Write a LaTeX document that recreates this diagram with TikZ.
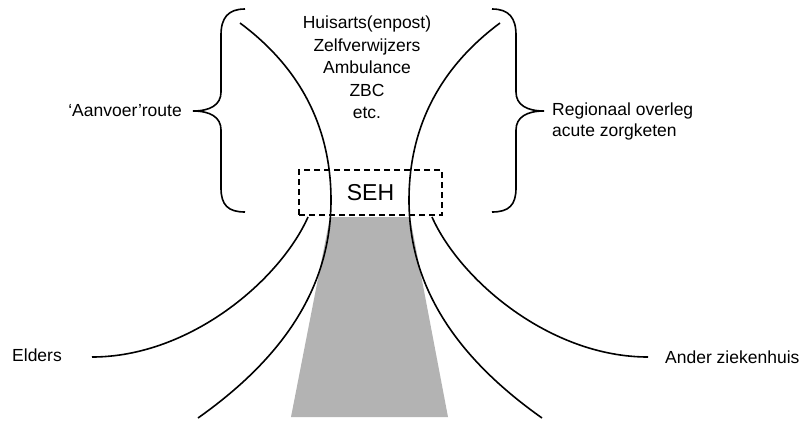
\documentclass[tikz,border=0pt]{standalone}
\usepackage{fontspec}
\setmainfont{Liberation Sans}
\definecolor{funnelgray}{HTML}{B3B3B3}
\tikzset{
  txt/.style={inner sep=0pt, font=\fontsize{17.5}{22.6}\selectfont},
  curve/.style={line width=1.6pt},
  brace/.style={line width=1.6pt},
  sehbox/.style={draw, dashed, dash pattern=on 6pt off 4pt, line width=1.3pt, minimum width=143pt, minimum height=45pt, inner sep=0pt, font=\fontsize{23}{26}\selectfont}
}
\begin{document}
\begin{tikzpicture}[x=1pt,y=-1pt]
\useasboundingbox (0,0) rectangle (809,421);
% gray funnel
\fill[funnelgray] (330,217) -- (410,217) -- (448,417) -- (291,417) -- cycle;
% left brace
\draw[brace] (245,9) .. controls (228,9) and (221,18) .. (221,35) -- (221,92)
  .. controls (221,105) and (210,111) .. (193,111)
  .. controls (210,111) and (221,117) .. (221,130) -- (221,188)
  .. controls (221,205) and (228,212) .. (245,212);
% right brace
\draw[brace] (492,9) .. controls (509,9) and (516,18) .. (516,35) -- (516,92)
  .. controls (516,105) and (527,111) .. (544,111)
  .. controls (527,111) and (516,117) .. (516,130) -- (516,188)
  .. controls (516,205) and (509,212) .. (492,212);
% inner curves
\draw[curve] (240,23) .. controls (310,75) and (331,140) .. (331,200)
  .. controls (331,290) and (280,360) .. (198,418);
\draw[curve] (500,23) .. controls (430,75) and (409,140) .. (409,200)
  .. controls (409,290) and (460,360) .. (542,418);
% outer curves
\draw[curve] (308,217) .. controls (280,280) and (190,357) .. (92,357);
\draw[curve] (432,217) .. controls (460,280) and (550,357) .. (648,357);
% SEH box
\node[sehbox] (seh) at (370.5,192.5) {SEH};
% texts
\node[txt, align=center] (sources) at (367,67.5) {Huisarts(enpost)\\Zelfverwijzers\\Ambulance\\ZBC\\etc.};
\node[txt, anchor=east] (aanvoer) at (182,111) {‘Aanvoer’route};
\node[txt, anchor=north west, align=left, font=\fontsize{17.5}{21}\selectfont] (regio) at (552,103) {Regionaal overleg\\acute zorgketen};
\node[txt, anchor=west] (elders) at (12,355) {Elders};
\node[txt, anchor=west] (ander) at (665,357) {Ander ziekenhuis};
\end{tikzpicture}
\end{document}
